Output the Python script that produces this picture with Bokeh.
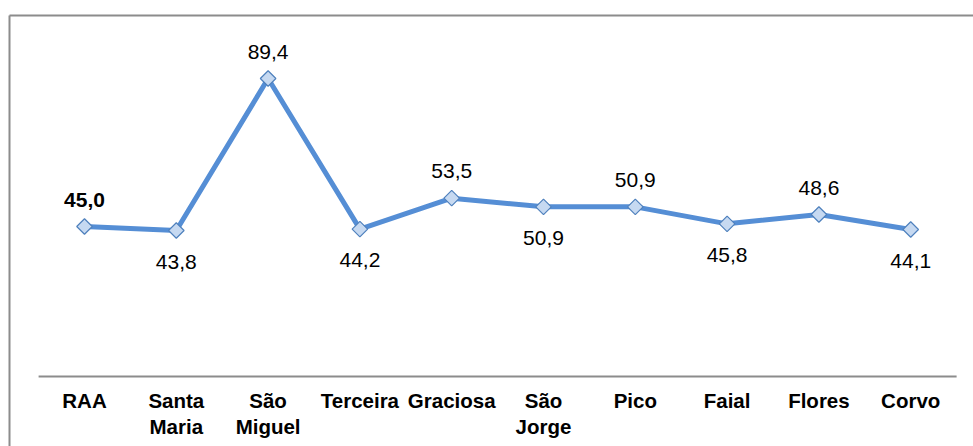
from bokeh.plotting import figure
from bokeh.models import ColumnDataSource, Range1d, LinearAxis, FixedTicker
from bokeh.core.properties import value
from bokeh.embed import file_html
from bokeh.resources import INLINE

categories = ["RAA", "Santa\nMaria", "São\nMiguel", "Terceira", "Graciosa",
              "São\nJorge", "Pico", "Faial", "Flores", "Corvo"]
values = [45.0, 43.8, 89.4, 44.2, 53.5, 50.9, 50.9, 45.8, 48.6, 44.1]
label_above = [True, False, True, False, True, False, True, False, True, False]
label_bold = [True, False, False, False, False, False, False, False, False, False]

n = len(categories)
xs = [i + 0.5 for i in range(n)]          # category centres on the axis
labels = [f"{v:.1f}".replace(".", ",") for v in values]
offsets = [-27 if a else 31 for a in label_above]
fstyles = ["bold" if b else "normal" for b in label_bold]

src = ColumnDataSource(dict(x=xs, y=values, label=labels,
                            yoff=offsets, fstyle=fstyles))

GRAY = "#8c8c8c"
p = figure(x_range=Range1d(-0.317, 10.184), y_range=Range1d(-21.0, 108.3),
           width=973, height=446, output_backend="svg", toolbar_location=None,
           x_axis_location=None,
           min_border_left=9, min_border_right=0, min_border_top=15,
           min_border_bottom=0)
p.outline_line_color = None
p.xgrid.visible = False
p.ygrid.visible = False
p.background_fill_color = "white"
p.border_fill_color = "white"

# left edge of the chart area border (y axis without ticks)
ya = p.yaxis[0]
ya.ticker = FixedTicker(ticks=[])
ya.axis_line_color = GRAY
ya.axis_line_width = 2
ya.major_tick_line_color = None
ya.minor_tick_line_color = None
ya.major_tick_out = 0
ya.major_label_standoff = 0
ya.major_label_text_font_size = "0px"

# top edge of the chart area border
top_ax = LinearAxis(ticker=FixedTicker(ticks=[]), axis_line_color=GRAY,
                    axis_line_width=2, major_tick_line_color=None,
                    minor_tick_line_color=None, major_tick_out=0,
                    major_label_standoff=0, major_label_text_font_size="0px")
p.add_layout(top_ax, "above")

# category axis at value 0
cat_ax = LinearAxis(
    fixed_location=0,
    ticker=FixedTicker(ticks=xs),
    major_label_overrides={x: c for x, c in zip(xs, categories)},
    axis_line_color=None,
    major_tick_line_color=None,
    minor_tick_line_color=None,
    major_label_text_font="Liberation Sans",
    major_label_text_font_style="bold",
    major_label_text_font_size="20.5px",
    major_label_text_color="black",
    major_label_standoff=6,
    major_label_text_line_height=1.14,
)
p.add_layout(cat_ax, "below")

# visible axis line spanning the category slots
p.segment(x0=[0], x1=[n], y0=[0], y1=[0], line_color=GRAY, line_width=2)

p.line("x", "y", source=src, line_color="#558ED5", line_width=5)
p.scatter("x", "y", source=src, marker="square", angle=0.785398, size=11,
          fill_color="#C6D9F1", line_color="#4F81BD", line_width=1.2)
p.text("x", "y", text="label", source=src, y_offset="yoff",
       text_font=value("Liberation Sans"), text_font_size="21px",
       text_font_style="fstyle", text_align="center",
       text_baseline="alphabetic", text_color="black")

open("out.html", "w").write(file_html(p, INLINE))
